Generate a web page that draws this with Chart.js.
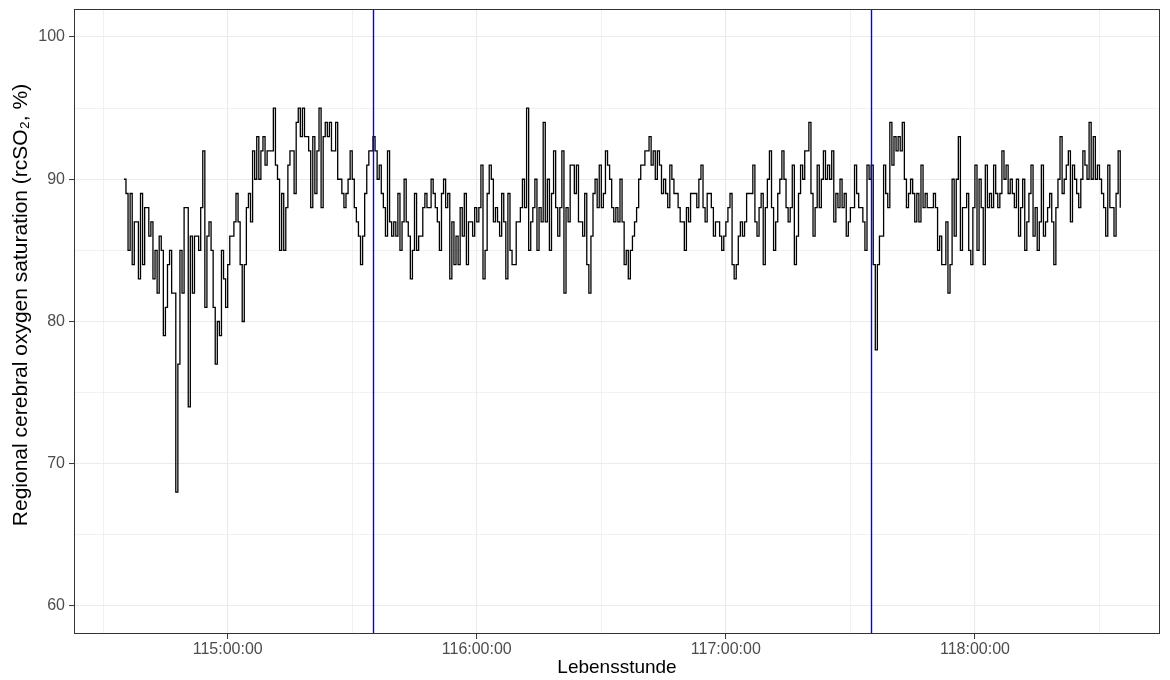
<!DOCTYPE html>
<html>
<head>
<meta charset="utf-8">
<title>rcSO2</title>
<script src="https://cdn.jsdelivr.net/npm/chart.js@4.4.1/dist/chart.umd.min.js"></script>
<style>
    html, body { margin: 0; padding: 0; background: #ffffff; }
    #rcso2Chart { display: block; }
</style>
</head>
<body>
<canvas id="rcso2Chart" width="1170" height="680"></canvas>
<script>
// Recording starts at 114:35:00, one sample every 30 seconds
const startHour = 114 + 35 / 60;
const sampleSeconds = 30;

// rcSO2 values (%)
const rcso2 = [
    90, 89, 85, 89, 84, 87, 87, 83, 89, 84, 88, 88, 86, 87, 83, 85, 82, 86, 85, 79,
    81, 84, 85, 82, 82, 68, 77, 85, 82, 88, 88, 74, 86, 82, 86, 86, 85, 88, 92, 81,
    86, 87, 85, 81, 77, 80, 79, 85, 83, 81, 84, 86, 86, 87, 89, 87, 84, 80, 84, 88,
    89, 87, 92, 90, 93, 90, 92, 93, 91, 92, 92, 92, 95, 91, 90, 85, 89, 85, 88, 91,
    92, 92, 89, 94, 95, 93, 95, 93, 93, 92, 88, 93, 89, 92, 95, 88, 93, 94, 93, 94,
    92, 92, 94, 90, 90, 89, 88, 89, 90, 92, 90, 88, 87, 86, 84, 86, 89, 91, 92, 92,
    93, 92, 90, 91, 89, 88, 86, 92, 87, 86, 87, 86, 89, 85, 87, 90, 87, 86, 83, 85,
    89, 85, 86, 86, 88, 89, 88, 88, 90, 89, 88, 87, 85, 89, 90, 88, 89, 83, 87, 84,
    86, 84, 88, 86, 89, 84, 87, 87, 86, 88, 87, 88, 91, 83, 85, 89, 91, 90, 87, 88,
    87, 86, 89, 87, 83, 89, 85, 84, 84, 87, 87, 88, 90, 88, 95, 85, 87, 88, 90, 85,
    88, 87, 94, 87, 90, 85, 89, 92, 88, 86, 88, 92, 82, 88, 87, 91, 91, 89, 91, 87,
    87, 86, 89, 84, 82, 86, 89, 90, 88, 91, 88, 89, 92, 91, 90, 88, 87, 88, 87, 90,
    87, 84, 85, 83, 85, 86, 87, 88, 90, 91, 91, 92, 92, 93, 91, 92, 90, 92, 91, 89,
    90, 89, 88, 91, 90, 89, 89, 88, 87, 87, 85, 88, 87, 89, 89, 89, 88, 90, 91, 88,
    87, 89, 89, 88, 86, 87, 87, 86, 85, 86, 87, 88, 89, 84, 83, 84, 86, 87, 86, 87,
    89, 89, 89, 91, 87, 86, 88, 89, 84, 88, 90, 92, 88, 85, 87, 89, 90, 92, 90, 88,
    87, 88, 91, 84, 86, 89, 91, 90, 92, 92, 94, 89, 86, 88, 91, 88, 90, 92, 90, 91,
    90, 92, 87, 89, 88, 90, 88, 89, 86, 87, 88, 88, 91, 89, 88, 88, 87, 85, 91, 90,
    91, 84, 78, 84, 86, 86, 91, 89, 88, 94, 91, 93, 92, 93, 92, 94, 90, 88, 89, 90,
    89, 87, 89, 87, 91, 88, 89, 88, 88, 88, 89, 88, 85, 86, 84, 84, 87, 82, 84, 90,
    86, 90, 93, 85, 88, 88, 89, 85, 84, 88, 91, 85, 90, 88, 84, 91, 88, 89, 88, 91,
    89, 88, 89, 92, 90, 91, 89, 90, 89, 88, 90, 86, 88, 90, 85, 87, 89, 91, 86, 88,
    85, 87, 91, 86, 87, 88, 89, 87, 84, 88, 90, 93, 89, 90, 91, 92, 87, 91, 90, 89,
    88, 90, 92, 91, 90, 94, 90, 93, 90, 91, 90, 89, 88, 86, 91, 88, 88, 86, 89, 92,
    88
];

// Vertical event markers (hours)
const markerHours = [115 + 35 / 60, 117 + 35 / 60];

// Axis ticks
const xTickHours = [115, 116, 117, 118];
const xMinorHours = [114.5, 115.5, 116.5, 117.5, 118.5];
const yTicks = [60, 70, 80, 90, 100];
const yMinor = [65, 75, 85, 95];

const xRange = [114.383, 118.743];
const yRange = [58.03, 101.97];

const yTitle = 'Regional cerebral oxygen saturation (rcSO\u2082, %)';
const fontFamily = '"Liberation Sans", Arial, Helvetica, sans-serif';

function formatHours(h) {
    const totalSec = Math.round(h * 3600);
    const hh = Math.floor(totalSec / 3600);
    const mm = Math.floor((totalSec % 3600) / 60);
    const ss = totalSec % 60;
    const pad = n => String(n).padStart(2, '0');
    return `${hh}:${pad(mm)}:${pad(ss)}`;
}

const points = rcso2.map((v, i) => ({ x: startHour + i * sampleSeconds / 3600, y: v }));

const isMajorX = v => xTickHours.includes(v);
const isMajorY = v => yTicks.includes(v);

// Blue markers, panel border and the y axis title
const overlayPlugin = {
    id: 'overlay',
    afterDatasetsDraw(chart) {
        const { ctx, chartArea, scales } = chart;
        ctx.save();
        ctx.strokeStyle = '#0000ff';
        ctx.lineWidth = 1.4;
        markerHours.forEach(h => {
            const px = Math.round(scales.x.getPixelForValue(h)) + 0.5;
            ctx.beginPath();
            ctx.moveTo(px, chartArea.top);
            ctx.lineTo(px, chartArea.bottom);
            ctx.stroke();
        });
        ctx.strokeStyle = '#333333';
        ctx.lineWidth = 1;
        ctx.strokeRect(chartArea.left + 0.5, chartArea.top + 0.5,
            chartArea.right - chartArea.left - 1, chartArea.bottom - chartArea.top - 1);
        ctx.restore();
    },
    afterDraw(chart) {
        const { ctx } = chart;
        ctx.save();
        ctx.translate(21, 305);
        ctx.rotate(-Math.PI / 2);
        ctx.fillStyle = '#000000';
        ctx.font = `21px ${fontFamily}`;
        ctx.textAlign = 'center';
        ctx.textBaseline = 'middle';
        ctx.fillText(yTitle, 0, 0);
        ctx.restore();
    }
};

const ctx = document.getElementById('rcso2Chart').getContext('2d');
new Chart(ctx, {
    type: 'line',
    data: {
        datasets: [{
            data: points,
            borderColor: '#000000',
            borderWidth: 1.3,
            pointRadius: 0,
            stepped: true,
            fill: false
        }]
    },
    options: {
        responsive: false,
        animation: false,
        devicePixelRatio: 1,
        layout: { padding: { top: 9, right: 10, left: 0, bottom: 0 } },
        plugins: {
            legend: { display: false },
            tooltip: { enabled: false }
        },
        scales: {
            x: {
                type: 'linear',
                min: xRange[0],
                max: xRange[1],
                afterBuildTicks: scale => {
                    scale.ticks = xMinorHours.concat(xTickHours).sort((a, b) => a - b).map(v => ({ value: v }));
                },
                afterFit: scale => {
                    scale.height = 46;
                    scale.paddingLeft = 0;
                    scale.paddingRight = 0;
                },
                ticks: {
                    autoSkip: false,
                    maxRotation: 0,
                    padding: 1,
                    color: '#4d4d4d',
                    font: { family: fontFamily, size: 16 },
                    callback: v => isMajorX(v) ? formatHours(v) : ''
                },
                grid: {
                    color: '#ebebeb',
                    lineWidth: c => isMajorX(c.tick.value) ? 1.1 : 0.7,
                    tickLength: 5,
                    tickColor: c => isMajorX(c.tick.value) ? '#333333' : 'rgba(0,0,0,0)',
                    tickWidth: 1
                },
                border: { display: false },
                title: {
                    display: true,
                    text: 'Lebensstunde',
                    color: '#000000',
                    font: { family: fontFamily, size: 19 },
                    padding: { top: 0, bottom: 1 }
                }
            },
            y: {
                type: 'linear',
                min: yRange[0],
                max: yRange[1],
                afterBuildTicks: scale => {
                    scale.ticks = yMinor.concat(yTicks).sort((a, b) => a - b).map(v => ({ value: v }));
                },
                afterFit: scale => {
                    scale.width = 74;
                    scale.paddingTop = 0;
                    scale.paddingBottom = 0;
                },
                ticks: {
                    autoSkip: false,
                    padding: 4,
                    color: '#4d4d4d',
                    font: { family: fontFamily, size: 16 },
                    callback: v => isMajorY(v) ? String(v) : ''
                },
                grid: {
                    color: '#ebebeb',
                    lineWidth: c => isMajorY(c.tick.value) ? 1.1 : 0.7,
                    tickLength: 5,
                    tickColor: c => isMajorY(c.tick.value) ? '#333333' : 'rgba(0,0,0,0)',
                    tickWidth: 1
                },
                border: { display: false },
                title: { display: false }
            }
        }
    },
    plugins: [overlayPlugin]
});
</script>
</body>
</html>
